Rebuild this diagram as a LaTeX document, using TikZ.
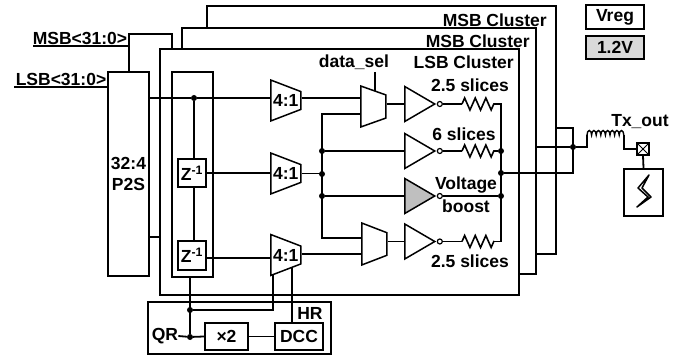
\documentclass[tikz,border=0pt]{standalone}
\usepackage{fontspec}
\setmainfont{Liberation Sans}
\usetikzlibrary{shapes.geometric,decorations.pathmorphing}
\begin{document}
\begin{tikzpicture}[x=1pt,y=-1pt]
	\tikzset{
	  LabelStyle/.style = { inner sep=0pt, font = \fontsize{17.5}{17.5}\selectfont\bfseries },
	  WireStyle/.style = { line width=1.8pt, line join=miter },
	  BoxStyle/.style = { draw, line width=2pt, inner sep=0pt, font = \fontsize{17.5}{17.5}\selectfont\bfseries },
	  ClusterStyle/.style = { BoxStyle, fill=white },
	  MuxStyle/.style = { BoxStyle, line width=1.5pt, trapezium, shape border rotate=270, trapezium stretches=true,
	                      anchor=west, align=center },
	  InvStyle/.style = { draw, line width=1.5pt, isosceles triangle, isosceles triangle stretches,
	                      minimum width=35pt, minimum height=30pt, inner sep=0pt, anchor=west },
	  BubbleStyle/.style = { draw, circle, line width=1.2pt, minimum size=5pt, inner sep=0pt, anchor=west },
	  DotStyle/.style = { circle, fill, minimum size=6pt, inner sep=0pt },
	  ResStyle/.style = { WireStyle, line width=1.6pt, decorate, decoration = {zigzag, segment length=10.6pt, amplitude=6pt} },
	  IndStyle/.style = { line width=1.4pt, decorate, decoration = {bumps, segment length=9.2pt, amplitude=4.5pt} }
	}
	\useasboundingbox (0,0) rectangle (694,358);
	\node[ClusterStyle, minimum width=349pt, minimum height=247.5pt] (msbA) at (381.5,130) {};
	\node[ClusterStyle, minimum width=354pt, minimum height=246pt] (msbB) at (359,151) {};
	\node[ClusterStyle, minimum width=359pt, minimum height=245.5pt] (lsb) at (339.5,172) {};
	\node[LabelStyle, anchor=east] (msbAtxt) at (547,20) {MSB Cluster};
	\node[LabelStyle, anchor=east] (msbBtxt) at (530,41) {MSB Cluster};
	\node[LabelStyle, anchor=east] (lsbtxt) at (514,62) {LSB Cluster};
	\node[BoxStyle, minimum width=41pt, minimum height=204pt, align=center] (p2s) at (128.5,174) {32:4\\[4pt]P2S};
	\node[BoxStyle, minimum width=41pt, minimum height=205pt] (zgroup) at (192.5,174.5) {};
	\node[BoxStyle, minimum width=28pt, minimum height=28pt] (zA) at (192,173) {Z\textsuperscript{-1}};
	\node[BoxStyle, minimum width=28pt, minimum height=29pt] (zB) at (192,255.5) {Z\textsuperscript{-1}};
	\node[LabelStyle] (msbin) at (80,38) {MSB<31:0>};
	\node[LabelStyle] (lsbin) at (61,79) {LSB<31:0>};
	\coordinate (msbend) at (33,46);
	\coordinate (lsbend) at (14,87);
	\coordinate (msbup) at (129,34);
	\coordinate (msbover) at (172,34);
	\draw[WireStyle] (msbend) -- (msbup |- msbend);
	\draw[WireStyle] (p2s.north -| msbup) -- (msbup) -- (msbover) -- (msbover |- lsb.north);
	\draw[WireStyle] (lsbend) -- (p2s.west |- lsbend);
	\node[DotStyle] (dotA) at (194,98) {};
	\node[MuxStyle, minimum width=41pt, minimum height=30pt, trapezium left angle=73, trapezium right angle=73] (muxA) at (270,100.5) {4:1};
	\node[MuxStyle, minimum width=41pt, minimum height=30pt, trapezium left angle=73, trapezium right angle=73] (muxB) at (270,173.5) {4:1};
	\node[MuxStyle, minimum width=41pt, minimum height=30pt, trapezium left angle=73, trapezium right angle=73] (muxC) at (270,255) {4:1};
	\node[MuxStyle, minimum width=41pt, minimum height=25pt, trapezium left angle=70, trapezium right angle=70] (selA) at (360,106.5) {\phantom{x}};
	\node[MuxStyle, minimum width=42pt, minimum height=25pt, trapezium left angle=68, trapezium right angle=68] (selB) at (361,244) {\phantom{x}};
	\node[InvStyle] (invA) at (404,104) {};
	\node[InvStyle] (invB) at (404,151) {};
	\node[InvStyle, fill=black!25] (invC) at (404,196) {};
	\node[InvStyle] (invD) at (404,241.5) {};
	\node[BubbleStyle] (bubA) at (invA.apex) {};
	\node[BubbleStyle] (bubB) at (invB.apex) {};
	\node[BubbleStyle] (bubC) at (invC.apex) {};
	\node[BubbleStyle] (bubD) at (invD.apex) {};
	\node[LabelStyle] (txtA) at (470,85) {2.5 slices};
	\node[LabelStyle] (txtB) at (464,134) {6 slices};
	\node[LabelStyle] (txtC) at (466,185) {Voltage};
	\node[LabelStyle] (txtD) at (466,206) {boost};
	\node[LabelStyle] (txtE) at (470,261) {2.5 slices};
	\node[LabelStyle] (datasel) at (354,62) {data\_sel};
	\node[BoxStyle, minimum width=183pt, minimum height=52pt] (hr) at (239.5,328) {};
	\node[BoxStyle, minimum width=43pt, minimum height=27pt] (dbl) at (226.5,336.5) {×2};
	\node[BoxStyle, minimum width=48pt, minimum height=27pt] (dcc) at (299,336.5) {DCC};
	\node[LabelStyle] (qr) at (165,336) {QR};
	\node[LabelStyle] (hrtxt) at (310,313) {HR};
	\node[DotStyle] (dotQ) at (190,337) {};
	\node[DotStyle] (dotR) at (190,310) {};
	\coordinate (muxCa) at (273,274);
	\coordinate (muxCb) at (292,268);
	\coordinate (zBout) at (206,258);
	\coordinate (selAa) at (360,98);
	\coordinate (selAb) at (360,114);
	\coordinate (selBa) at (361,238);
	\coordinate (selBb) at (361,254);
	\coordinate (busA) at (322,114);
	\coordinate (busB) at (322,238);
	\coordinate (selstub) at (375,72);
	\node[DotStyle] (dotS) at (322,151) {};
	\node[DotStyle] (dotT) at (322,174) {};
	\node[DotStyle] (dotU) at (322,196) {};
	\node[DotStyle] (dotV) at (501,151) {};
	\node[DotStyle] (dotW) at (501,173) {};
	\node[DotStyle] (dotX) at (501,196) {};
	\node[DotStyle] (dotY) at (573,147) {};
	\coordinate (outtop) at (501,104);
	\coordinate (outbot) at (501,241.5);
	\coordinate (resAa) at (462,104);
	\coordinate (resAb) at (494,104);
	\coordinate (resBa) at (462,151);
	\coordinate (resBb) at (494,151);
	\coordinate (resDa) at (462,241.5);
	\coordinate (resDb) at (494,241.5);
	\coordinate (sumA) at (573,173);
	\coordinate (sumB) at (573,128);
	\coordinate (indA) at (587,135);
	\coordinate (indB) at (624,135);
	\coordinate (indC) at (624,149);
	\node[BoxStyle, minimum width=12pt, minimum height=12pt,
	      path picture={\draw[line width=1pt] (path picture bounding box.north west) -- (path picture bounding box.south east)
	                    (path picture bounding box.north east) -- (path picture bounding box.south west);}] (pad) at (643,149) {};
	\node[BoxStyle, minimum width=39pt, minimum height=47pt] (src) at (643.5,192.5) {};
	\node[BoxStyle, minimum width=58pt, minimum height=24pt] (vreg) at (615,17) {Vreg};
	\node[BoxStyle, minimum width=58pt, minimum height=23pt, fill=black!15] (volt) at (615,47.5) {1.2V};
	\node[LabelStyle] (txout) at (640,122) {Tx\_out};
	\draw[WireStyle] (p2s.east |- dotA) -- (dotA) -- (muxA.west |- dotA);
	\draw[WireStyle] (dotA) -- (dotA |- zA.north);
	\draw[WireStyle] (dotA |- zA.south) -- (dotA |- zB.north);
	\draw[WireStyle] (zA.east) -- (zA.east -| muxB.west);
	\draw[WireStyle] (zBout) -- (zBout -| muxC.west);
	\draw[WireStyle] (p2s.east |- 0,237) -- (lsb.west |- 0,237);
	\draw[WireStyle] (muxA.east |- selAa) -- (selAa);
	\draw[WireStyle] (muxB.east) -- (muxB.east -| dotT);
	\draw[WireStyle] (selAb) -- (busA) -- (busB) -- (selBa);
	\draw[WireStyle] (muxC.east |- selBb) -- (selBb);
	\draw[WireStyle] (selstub) -- (selstub |- 0,91);
	\draw[WireStyle] (dotS) -- (invB.west);
	\draw[WireStyle] (dotU) -- (invC.west);
	\draw[WireStyle] (selA.east |- invA.west) -- (invA.west);
	\draw[WireStyle] (selB.east |- invD.west) -- (invD.west);
	\draw[WireStyle] (bubA.east) -- (resAa);
	\draw[ResStyle] (resAa) -- (resAb);
	\draw[WireStyle] (resAb) -- (outtop) -- (outbot) -- (resDb);
	\draw[ResStyle] (resDa) -- (resDb);
	\draw[WireStyle] (bubD.east) -- (resDa);
	\draw[WireStyle] (bubB.east) -- (resBa);
	\draw[ResStyle] (resBa) -- (resBb);
	\draw[WireStyle] (resBb) -- (dotV);
	\draw[WireStyle] (bubC.east) -- (dotX);
	\draw[WireStyle] (dotW) -- (sumA) -- (sumB) -- (msbA.east |- sumB);
	\draw[WireStyle] (msbB.east |- dotY) -- (dotY) -- (indA |- dotY) -- (indA);
	\draw[IndStyle] (indA) -- (indB);
	\draw[WireStyle] (indB) -- (indC) -- (pad.west);
	\draw[WireStyle] (pad.south) -- (src.north);
	\draw[line width=1.5pt, line join=round] (649,175) -- (638,188) -- (648,197) -- (637,207) -- (651,197) -- (642,188) -- cycle;
	\draw[WireStyle] (zgroup.south -| dotQ) -- (dotQ);
	\draw[WireStyle] (dotR) -- (muxCa |- dotR) -- (muxCa);
	\draw[WireStyle] (muxCb) -- (muxCb |- dcc.north);
	\draw[WireStyle] (qr.east) -- (dotQ) -- (dbl.west);
	\draw[WireStyle] (dbl.east) -- (dcc.west);
\end{tikzpicture}
\end{document}
